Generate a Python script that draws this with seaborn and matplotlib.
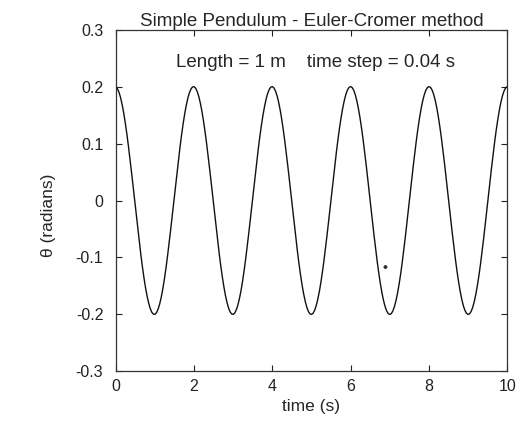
import numpy as np
import pandas as pd
import matplotlib
matplotlib.use('Agg')
import matplotlib.pyplot as plt
import seaborn as sns

# Parameters of the run shown in the chart
length = 1.0          # m
g = 9.8               # m/s^2
dt = 0.04             # s
t_end = 10.0          # s
theta0 = 0.2          # rad
omega0 = 0.0

# Euler-Cromer integration (the data the chart shows)
t_vals = [0.0]
theta_vals = [theta0]
omega = omega0
theta = theta0
t = 0.0
while t < t_end:
    omega = omega - (g / length) * theta * dt
    theta = theta + omega * dt
    t = t + dt
    t_vals.append(t)
    theta_vals.append(theta)

df = pd.DataFrame({'time': t_vals, 'theta': theta_vals})

# stray speck in the scan
speck_t = [6.89]
speck_theta = [-0.117]

x_ticks = [0, 2, 4, 6, 8, 10]
y_ticks = [-0.3, -0.2, -0.1, 0, 0.1, 0.2, 0.3]
y_tick_labels = ['-0.3', '-0.2', '-0.1', '0', '0.1', '0.2', '0.3']

sns.set_style('ticks')
plt.rcParams['font.family'] = ['Liberation Sans', 'DejaVu Sans']

fig = plt.figure(figsize=(5.17, 4.28), dpi=100)
ax = fig.add_axes([0.224, 0.133, 0.757, 0.797])

sns.lineplot(data=df, x='time', y='theta', color='#111111', linewidth=1.0, ax=ax)
sns.scatterplot(x=speck_t, y=speck_theta, color='#333333', s=8, edgecolor='none', ax=ax)

ax.set_xlim(0, 10)
ax.set_ylim(-0.3, 0.3)
ax.set_xticks(x_ticks)
ax.set_xticklabels([str(v) for v in x_ticks])
ax.set_yticks(y_ticks)
ax.set_yticklabels(y_tick_labels)
ax.tick_params(direction='in', top=True, right=True, length=4, width=0.8,
               labelsize=11.5, colors='#222222')
ax.tick_params(axis='y', pad=9)
ax.tick_params(axis='x', pad=6)
for sp in ax.spines.values():
    sp.set_linewidth(0.9)
    sp.set_color('#333333')

ax.set_xlabel('time (s)', fontsize=12.5, labelpad=3)
ax.set_ylabel('θ (radians)', fontsize=12.5)
ax.yaxis.set_label_coords(-0.152, 0.457)
ax.set_title('Simple Pendulum - Euler-Cromer method', fontsize=13.5, pad=3)
ax.text(5.1, 0.242, 'Length = 1 m    time step = 0.04 s', ha='center', va='center',
        fontsize=13.5)

fig.savefig('out.png', dpi=100)
